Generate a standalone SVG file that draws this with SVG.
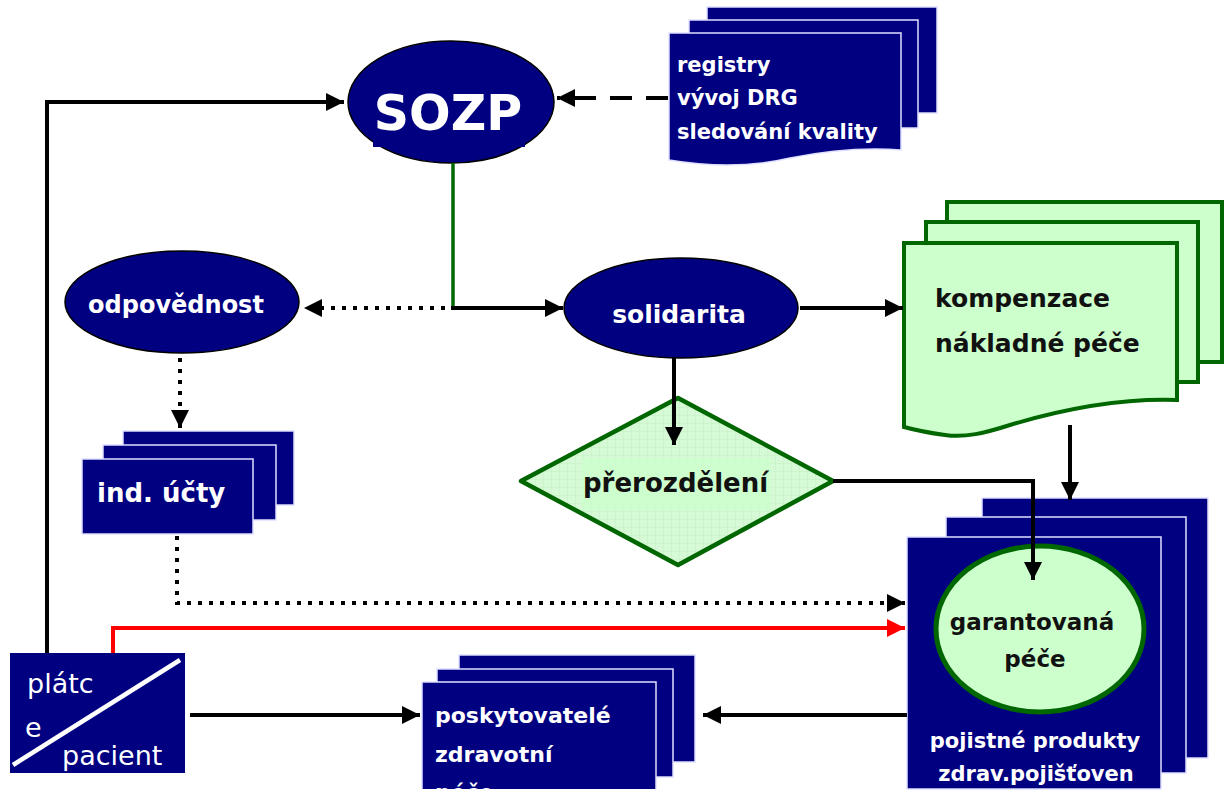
<svg xmlns="http://www.w3.org/2000/svg" width="1228" height="792" viewBox="0 0 1228 792">
<defs>
<style>
.navy{fill:#000080;stroke:#e0e0ff;stroke-width:1.5}
.navyE{fill:#000080;stroke:#000;stroke-width:1.5}
.gdoc{fill:#ccffcc;stroke:#006600;stroke-width:4}
.wt{fill:#fff;font-family:"DejaVu Sans",sans-serif;font-weight:bold}
.bt{fill:#111;font-family:"DejaVu Sans",sans-serif;font-weight:bold}
.ln{fill:none;stroke:#000;stroke-width:4}
.dot{fill:none;stroke:#000;stroke-width:4;stroke-dasharray:4 7}
.dash{fill:none;stroke:#000;stroke-width:4;stroke-dasharray:22 14}
</style>
<marker id="ah" viewBox="0 0 10 10" refX="10" refY="5" markerWidth="4.5" markerHeight="4.5" markerUnits="strokeWidth" orient="auto"><path d="M0,0 L10,5 L0,10 Z" fill="#000"/></marker>
<marker id="ahr" viewBox="0 0 10 10" refX="10" refY="5" markerWidth="4.5" markerHeight="4.5" markerUnits="strokeWidth" orient="auto"><path d="M0,0 L10,5 L0,10 Z" fill="#ff0000"/></marker>
<pattern id="grid" width="8" height="8" patternUnits="userSpaceOnUse"><rect width="8" height="8" fill="#d6fad6"/><path d="M8,0 V8 M0,8 H8" stroke="#c4efc4" stroke-width="1"/></pattern>
<clipPath id="bot"><rect x="0" y="0" width="1228" height="789"/></clipPath>
</defs>
<rect width="1228" height="792" fill="#fff"/>

<g id="sozp">
<ellipse class="navyE" cx="451" cy="102" rx="103" ry="61"/>
<rect x="373" y="128" width="152" height="19" fill="#000080"/>
<text class="wt" x="448" y="130" font-size="49" text-anchor="middle">SOZP</text>
</g>

<g id="registry">
<rect class="navy" x="707" y="7" width="230" height="106"/>
<rect class="navy" x="689" y="20" width="229" height="108"/>
<path class="navy" d="M669,33 H901 V150 Q850,146 790,158 Q735,171 669,160 Z"/>
<text class="wt" x="677" y="72" font-size="21">registry</text>
<text class="wt" x="677" y="105" font-size="21">vývoj DRG</text>
<text class="wt" x="677" y="139" font-size="21">sledování kvality</text>
</g>

<g id="odpovednost">
<ellipse class="navyE" cx="182" cy="302" rx="117" ry="51"/>
<text class="wt" x="176" y="313" font-size="24" text-anchor="middle">odpovědnost</text>
</g>

<g id="solidarita">
<ellipse class="navyE" cx="681" cy="308" rx="117" ry="50"/>
<text class="wt" x="679" y="323" font-size="25" text-anchor="middle">solidarita</text>
</g>

<g id="kompenzace">
<rect class="gdoc" x="947" y="202" width="275" height="160"/>
<rect class="gdoc" x="926" y="222" width="272" height="160"/>
<path class="gdoc" d="M904,243 H1177 V400 C1120,398 1060,410 1010,425 C985,433 965,438 945,435 C930,433 915,430 904,427 Z"/>
<text class="bt" x="935" y="307" font-size="25">kompenzace</text>
<text class="bt" x="935" y="352" font-size="25">nákladné péče</text>
</g>

<g id="ind-ucty">
<rect class="navy" x="123" y="431" width="171" height="74"/>
<rect class="navy" x="103" y="445" width="173" height="75"/>
<rect class="navy" x="82" y="459" width="171" height="75"/>
<text class="wt" x="97" y="502" font-size="26">ind. účty</text>
</g>

<g id="prerozdeleni">
<polygon points="678,398 833,481 678,565 521,481" fill="url(#grid)" stroke="#006600" stroke-width="4.5" stroke-linejoin="round"/>
<rect x="582" y="458" width="189" height="52" fill="#ccffcc" opacity="0.8"/>
<text class="bt" x="583" y="492" font-size="26">přerozdělení</text>
</g>

<g id="garantovana">
<rect class="navy" x="982" y="498" width="226" height="260"/>
<rect class="navy" x="946" y="517" width="240" height="256"/>
<rect class="navy" x="907" y="537" width="254" height="252"/>
<ellipse cx="1040" cy="629" rx="104" ry="83" fill="#ccffcc" stroke="#006600" stroke-width="5"/>
<text class="bt" x="1032" y="630" font-size="23" text-anchor="middle">garantovaná</text>
<text class="bt" x="1035" y="667" font-size="23" text-anchor="middle">péče</text>
<text class="wt" x="1035" y="748" font-size="21" text-anchor="middle">pojistné produkty</text>
<text class="wt" x="1036" y="781" font-size="21" text-anchor="middle">zdrav.pojišťoven</text>
</g>

<g id="platce-pacient">
<rect x="10" y="653" width="175" height="120" fill="#000080"/>
<line x1="13" y1="765" x2="180" y2="660" stroke="#fff" stroke-width="4.5"/>
<text x="27" y="693" font-size="27" fill="#fff" font-family="DejaVu Sans, sans-serif">plátc</text>
<text x="25" y="737" font-size="27" fill="#fff" font-family="DejaVu Sans, sans-serif">e</text>
<text x="62" y="765" font-size="27" fill="#fff" font-family="DejaVu Sans, sans-serif">pacient</text>
</g>

<g id="poskytovatele" clip-path="url(#bot)">
<rect class="navy" x="459" y="655" width="236" height="107"/>
<rect class="navy" x="437" y="669" width="236" height="108"/>
<rect class="navy" x="422" y="682" width="234" height="110"/>
<text class="wt" x="435" y="723" font-size="22">poskytovatelé</text>
<text class="wt" x="435" y="762" font-size="22">zdravotní</text>
<text class="wt" x="435" y="800" font-size="22">péče</text>
</g>

<g id="connectors">
<polyline class="ln" points="47,653 47,102 344,102" marker-end="url(#ah)"/>
<line class="dash" x1="668" y1="98" x2="557" y2="98" marker-end="url(#ah)"/>
<line x1="453" y1="163" x2="453" y2="308" stroke="#006600" stroke-width="3.5"/>
<line class="ln" x1="451" y1="308" x2="563" y2="308" marker-end="url(#ah)"/>
<line class="dot" x1="445" y1="308" x2="304" y2="308" marker-end="url(#ah)"/>
<line class="ln" x1="800" y1="308" x2="903" y2="308" marker-end="url(#ah)"/>
<line class="dot" x1="180" y1="358" x2="180" y2="428" marker-end="url(#ah)"/>
<line class="ln" x1="674" y1="358" x2="674" y2="445" marker-end="url(#ah)"/>
<polyline class="ln" points="833,481 1033,481 1033,580" marker-end="url(#ah)"/>
<line class="ln" x1="1070" y1="425" x2="1070" y2="500" marker-end="url(#ah)"/>
<polyline class="dot" points="177,536 177,603 905,603" marker-end="url(#ah)"/>
<polyline fill="none" stroke="#ff0000" stroke-width="4" points="113,653 113,628 905,628" marker-end="url(#ahr)"/>
<line class="ln" x1="190" y1="715" x2="420" y2="715" marker-end="url(#ah)"/>
<line class="ln" x1="907" y1="715" x2="703" y2="715" marker-end="url(#ah)"/>
</g>
</svg>
